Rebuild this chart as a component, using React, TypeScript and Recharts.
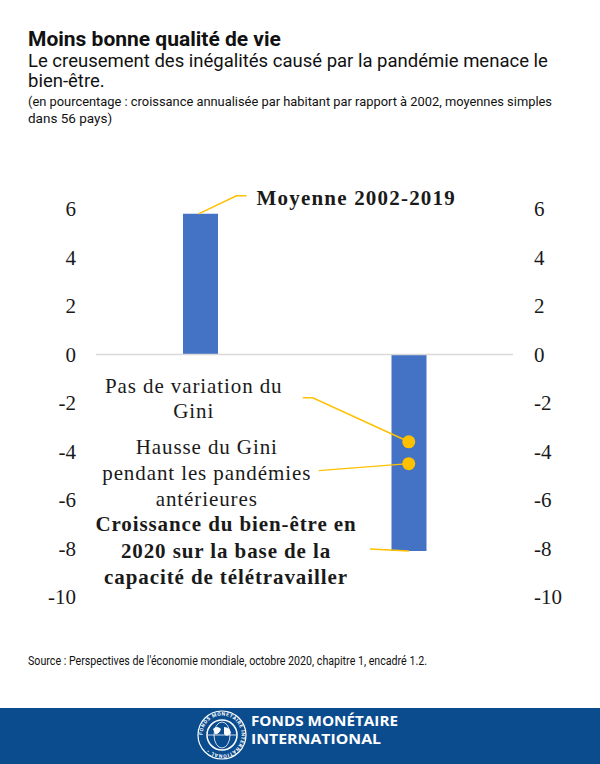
import { ComposedChart, Bar, Line, XAxis, YAxis, ReferenceLine, LabelList } from "recharts";

// data
const categories = ["Moyenne 2002-2019", "2020"];
const wellbeing = [5.8, -8.1];
const giniUnchanged = [null, -3.6];
const giniPandemics = [null, -4.5];
const yTicks = [-10, -8, -6, -4, -2, 0, 2, 4, 6];

const data = categories.map((cat, i) => ({
  cat,
  wellbeing: wellbeing[i],
  giniUnchanged: giniUnchanged[i],
  giniPandemics: giniPandemics[i],
}));

const SERIF = '"Liberation Serif", "Times New Roman", serif';
const SANS = 'Roboto, "Noto Sans", sans-serif';
const INK = "#1a1a1a";
const GOLD = "#ffc000";
const BLUE = "#4472c4";

const pos = (props: any) => {
  const vb = props.viewBox || {};
  return {
    x: vb.x ?? props.x,
    y: vb.y ?? props.y,
    w: vb.width ?? props.width ?? 0,
    h: vb.height ?? props.height ?? 0,
  };
};

const lines = (cx: number, ys: number[], texts: string[], bold = false) => (
  <text
    fontFamily={SERIF}
    fontSize={21}
    fontWeight={bold ? "bold" : "normal"}
    fill={INK}
    textAnchor="middle"
    letterSpacing={0.9}
  >
    {texts.map((t, i) => (
      <tspan key={i} x={cx} y={ys[i]}>
        {t}
      </tspan>
    ))}
  </text>
);

const barNote = (props: any) => {
  const { x, y, w, h } = pos(props);
  if (x == null || y == null) return null;
  const cx = x + w / 2;
  if (props.index === 0) {
    const top = Math.min(y, y + h);
    return (
      <g>
        <polyline
          points={`${cx - 2},${top} ${cx + 36},${top - 18} ${cx + 46},${top - 18}`}
          fill="none"
          stroke={GOLD}
          strokeWidth={1.5}
        />
        <text x={cx + 56} y={top - 9} fontFamily={SERIF} fontSize={21} fontWeight="bold" fill={INK} letterSpacing={1.2}>
          Moyenne 2002-2019
        </text>
      </g>
    );
  }
  const bottom = Math.max(y, y + h);
  return (
    <g>
      <polyline points={`${cx - 39},${bottom - 2} ${cx},${bottom}`} fill="none" stroke={GOLD} strokeWidth={1.5} />
      {lines(
        cx - 183,
        [bottom - 20, bottom + 7, bottom + 33],
        ["Croissance du bien-être en", "2020 sur la base de la", "capacité de télétravailler"],
        true
      )}
    </g>
  );
};

const flatNote = (props: any) => {
  const { x, y } = pos(props);
  if (props.value == null || x == null || y == null) return null;
  return (
    <g>
      <polyline points={`${x - 106},${y - 44} ${x - 96},${y - 44} ${x},${y}`} fill="none" stroke={GOLD} strokeWidth={1.5} />
      {lines(x - 215, [y - 49, y - 24], ["Pas de variation du", "Gini"])}
    </g>
  );
};

const riseNote = (props: any) => {
  const { x, y } = pos(props);
  if (props.value == null || x == null || y == null) return null;
  return (
    <g>
      <polyline points={`${x - 90},${y + 7} ${x},${y}`} fill="none" stroke={GOLD} strokeWidth={1.5} />
      {lines(x - 202, [y - 10, y + 16, y + 42], ["Hausse du Gini", "pendant les pandémies", "antérieures"])}
    </g>
  );
};

const tickStyle = { fontFamily: SERIF, fontSize: 21, fill: INK };

export default function App() {
  return (
    <div style={{ position: "absolute", left: 0, top: 0, width: 600, height: 764, background: "#fff", overflow: "hidden" }}>
      <svg width={600} height={764} style={{ position: "absolute", left: 0, top: 0 }}>
        <text x={28} y={46} fontFamily={SANS} fontWeight={700} fontSize={21} fill="#111">
          Moins bonne qualité de vie
        </text>
        <text fontFamily={SANS} fontSize={18.5} fill="#111">
          <tspan x={28} y={67}>Le creusement des inégalités causé par la pandémie menace le</tspan>
          <tspan x={28} y={87}>bien-être.</tspan>
        </text>
        <text fontFamily={SANS} fontSize={13.5} fill="#111">
          <tspan x={28} y={106} textLength={524} lengthAdjust="spacingAndGlyphs">
            (en pourcentage : croissance annualisée par habitant par rapport à 2002, moyennes simples
          </tspan>
          <tspan x={28} y={123}>dans 56 pays)</tspan>
        </text>
        <text x={28} y={665} fontFamily={SANS} fontSize={12} fill="#111" textLength={399} lengthAdjust="spacingAndGlyphs">
          Source : Perspectives de l'économie mondiale, octobre 2020, chapitre 1, encadré 1.2.
        </text>
        <rect x={0} y={708} width={600} height={56} fill="#0b4c8f" />
        <g transform="translate(222,735)" fill="none" stroke="#fff">
          <circle r={24} strokeWidth={1.2} />
          <circle r={15} strokeWidth={1.5} />
          <ellipse rx={8} ry={13} strokeWidth={0.8} />
          <line x1={-14} y1={0} x2={14} y2={0} strokeWidth={0.8} />
          <path d="M-9,-6 q4,-4 8,0 q-2,6 -6,5 z M2,-8 q6,0 7,6 q-4,5 -7,1 z" fill="#fff" stroke="none" />
          <path id="ring" d="M-19.5,0 a19.5,19.5 0 1,1 39,0 a19.5,19.5 0 1,1 -39,0" stroke="none" />
          <text fontSize={5} fill="#fff" stroke="none" fontFamily={SANS} fontWeight={700} letterSpacing={0.6}>
            <textPath href="#ring">FONDS MONÉTAIRE INTERNATIONAL •</textPath>
          </text>
        </g>
        <text x={251} y={726} fontFamily='"Open Sans", sans-serif' fontWeight={700} fontSize={14} fill="#fff" textLength={147} lengthAdjust="spacingAndGlyphs">
          FONDS MONÉTAIRE
        </text>
        <text x={251} y={744} fontFamily='"Open Sans", sans-serif' fontWeight={700} fontSize={14} fill="#fff" textLength={130} lengthAdjust="spacingAndGlyphs">
          INTERNATIONAL
        </text>
      </svg>
      <div style={{ position: "absolute", left: 0, top: 180 }}>
        <ComposedChart width={600} height={440} data={data} margin={{ top: 29, right: 27, bottom: 23, left: 0 }}>
          <XAxis dataKey="cat" hide />
          <YAxis
            yAxisId="left"
            width={96}
            domain={[-10, 6]}
            ticks={yTicks}
            axisLine={false}
            tickLine={false}
            tickMargin={14}
            tick={tickStyle}
          />
          <YAxis
            yAxisId="right"
            orientation="right"
            width={60}
            domain={[-10, 6]}
            ticks={yTicks}
            axisLine={false}
            tickLine={false}
            tickMargin={15}
            tick={tickStyle}
          />
          <ReferenceLine yAxisId="left" y={0} stroke="#d9d9d9" strokeWidth={1.5} />
          <Bar yAxisId="left" dataKey="wellbeing" fill={BLUE} barSize={35} isAnimationActive={false}>
            <LabelList dataKey="wellbeing" content={barNote} />
          </Bar>
          {/* invisible twin so the right-hand axis gets drawn */}
          <Line
            yAxisId="right"
            dataKey="wellbeing"
            stroke="none"
            dot={false}
            activeDot={false}
            legendType="none"
            isAnimationActive={false}
          />
          <Line
            yAxisId="left"
            dataKey="giniUnchanged"
            stroke="none"
            dot={{ r: 6.5, fill: GOLD, stroke: "none" }}
            activeDot={false}
            isAnimationActive={false}
          >
            <LabelList dataKey="giniUnchanged" content={flatNote} />
          </Line>
          <Line
            yAxisId="left"
            dataKey="giniPandemics"
            stroke="none"
            dot={{ r: 6.5, fill: GOLD, stroke: "none" }}
            activeDot={false}
            isAnimationActive={false}
          >
            <LabelList dataKey="giniPandemics" content={riseNote} />
          </Line>
        </ComposedChart>
      </div>
    </div>
  );
}
